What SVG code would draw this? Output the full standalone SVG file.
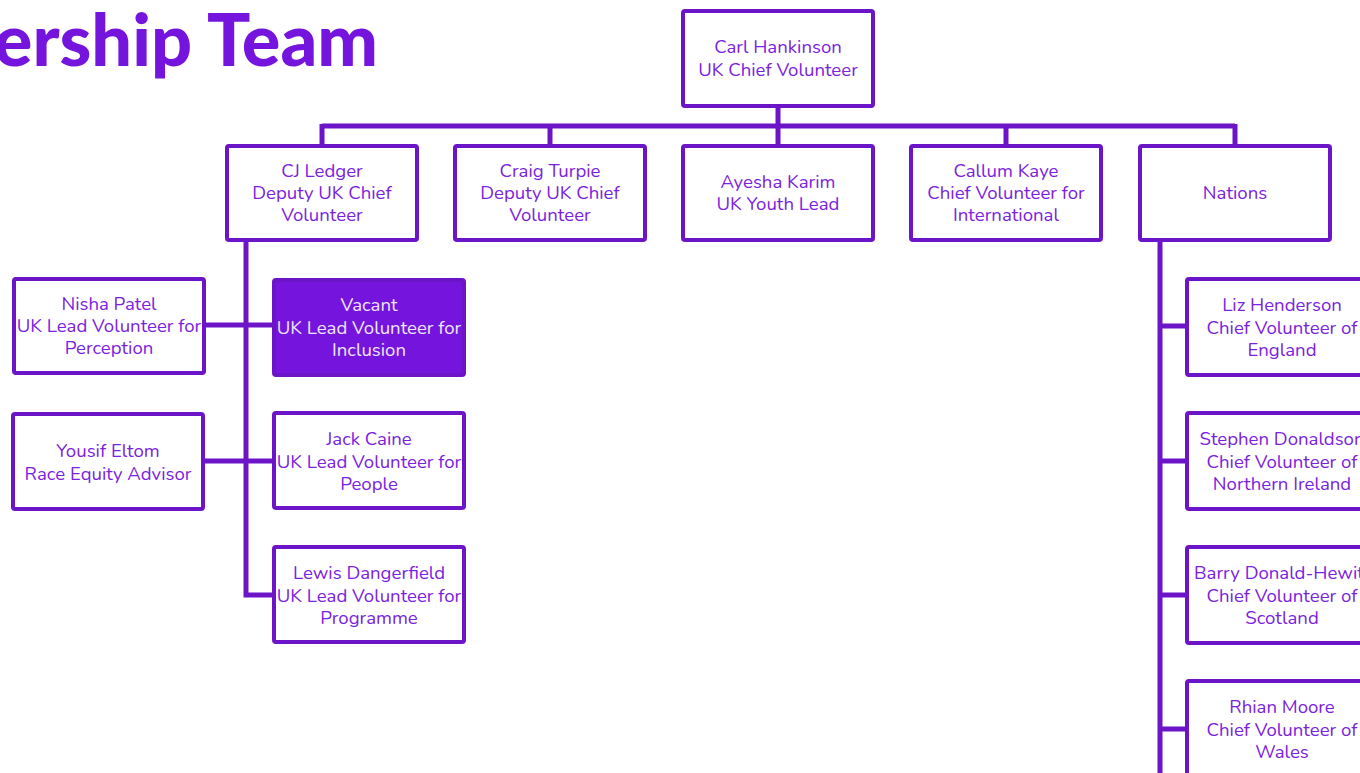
<svg xmlns="http://www.w3.org/2000/svg" width="1360" height="773" viewBox="0 0 1360 773">
<style>
.box{fill:#ffffff;stroke:#6b14c8;stroke-width:4}
.vac{fill:#7514dc;stroke:#6b14c8;stroke-width:4}
.t{font-family:"Nunito","Noto Sans","Liberation Sans",sans-serif;font-size:18.6px;fill:#7a22e0;text-anchor:middle}
.tw{fill:#efe6fc}
.ln{stroke:#6b14c8;stroke-width:5;fill:none}
.title{font-family:"Lato","Noto Sans","Liberation Sans",sans-serif;font-weight:900;font-size:72px;fill:#7514dc;text-anchor:end}
</style>
<rect width="1360" height="773" fill="#ffffff"/>
<text class="title" x="378" y="66">ership Team</text>
<g id="connectors">
<path class="ln" d="M778 106V126M322 126H1235M322 124V146M550 124V146M778 124V146M1006 124V146M1235 124V146"/>
<path class="ln" d="M246 240V595H274M204 325H274M203 461H274"/>
<path class="ln" d="M1160 240V780M1160 326H1187M1160 461H1187M1160 595H1187M1160 729H1187"/>
</g>
<g id="n-carl"><rect class="box" x="683" y="11" width="190" height="95" rx="2"/><text class="t" x="778" y="52.5">Carl Hankinson</text><text class="t" x="778" y="75.5">UK Chief Volunteer</text></g>
<g id="n-cj"><rect class="box" x="227" y="146" width="190" height="94" rx="2"/><text class="t" x="322" y="176.5">CJ Ledger</text><text class="t" x="322" y="198.5">Deputy UK Chief</text><text class="t" x="322" y="220.5">Volunteer</text></g>
<g id="n-craig"><rect class="box" x="455" y="146" width="190" height="94" rx="2"/><text class="t" x="550" y="176.5">Craig Turpie</text><text class="t" x="550" y="198.5">Deputy UK Chief</text><text class="t" x="550" y="220.5">Volunteer</text></g>
<g id="n-ayesha"><rect class="box" x="683" y="146" width="190" height="94" rx="2"/><text class="t" x="778" y="187.5">Ayesha Karim</text><text class="t" x="778" y="209.5">UK Youth Lead</text></g>
<g id="n-callum"><rect class="box" x="911" y="146" width="190" height="94" rx="2"/><text class="t" x="1006" y="176.5">Callum Kaye</text><text class="t" x="1006" y="198.5">Chief Volunteer for</text><text class="t" x="1006" y="220.5">International</text></g>
<g id="n-nations"><rect class="box" x="1140" y="146" width="190" height="94" rx="2"/><text class="t" x="1235" y="198.5">Nations</text></g>
<g id="n-nisha"><rect class="box" x="14" y="279" width="190" height="94" rx="2"/><text class="t" x="109" y="309.5">Nisha Patel</text><text class="t" x="109" y="331.5">UK Lead Volunteer for</text><text class="t" x="109" y="353.5">Perception</text></g>
<g id="n-yousif"><rect class="box" x="13" y="414" width="190" height="95" rx="2"/><text class="t" x="108" y="456.5">Yousif Eltom</text><text class="t" x="108" y="479.5">Race Equity Advisor</text></g>
<g id="n-vacant"><rect class="vac" x="274" y="280" width="190" height="95" rx="2"/><text class="t tw" x="369" y="310.5">Vacant</text><text class="t tw" x="369" y="333.5">UK Lead Volunteer for</text><text class="t tw" x="369" y="355.5">Inclusion</text></g>
<g id="n-jack"><rect class="box" x="274" y="413" width="190" height="95" rx="2"/><text class="t" x="369" y="444.5">Jack Caine</text><text class="t" x="369" y="467.5">UK Lead Volunteer for</text><text class="t" x="369" y="489.5">People</text></g>
<g id="n-lewis"><rect class="box" x="274" y="547" width="190" height="95" rx="2"/><text class="t" x="369" y="578.5">Lewis Dangerfield</text><text class="t" x="369" y="601.5">UK Lead Volunteer for</text><text class="t" x="369" y="623.5">Programme</text></g>
<g id="n-liz"><rect class="box" x="1187" y="279" width="190" height="96" rx="2"/><text class="t" x="1282" y="310.5">Liz Henderson</text><text class="t" x="1282" y="333.5">Chief Volunteer of</text><text class="t" x="1282" y="355.5">England</text></g>
<g id="n-stephen"><rect class="box" x="1187" y="413" width="190" height="96" rx="2"/><text class="t" x="1282" y="444.5">Stephen Donaldson</text><text class="t" x="1282" y="467.5">Chief Volunteer of</text><text class="t" x="1282" y="489.5">Northern Ireland</text></g>
<g id="n-barry"><rect class="box" x="1187" y="547" width="190" height="96" rx="2"/><text class="t" x="1282" y="578.5">Barry Donald-Hewitt</text><text class="t" x="1282" y="601.5">Chief Volunteer of</text><text class="t" x="1282" y="623.5">Scotland</text></g>
<g id="n-rhian"><rect class="box" x="1187" y="681" width="190" height="96" rx="2"/><text class="t" x="1282" y="712.5">Rhian Moore</text><text class="t" x="1282" y="735.5">Chief Volunteer of</text><text class="t" x="1282" y="757.5">Wales</text></g>
</svg>
